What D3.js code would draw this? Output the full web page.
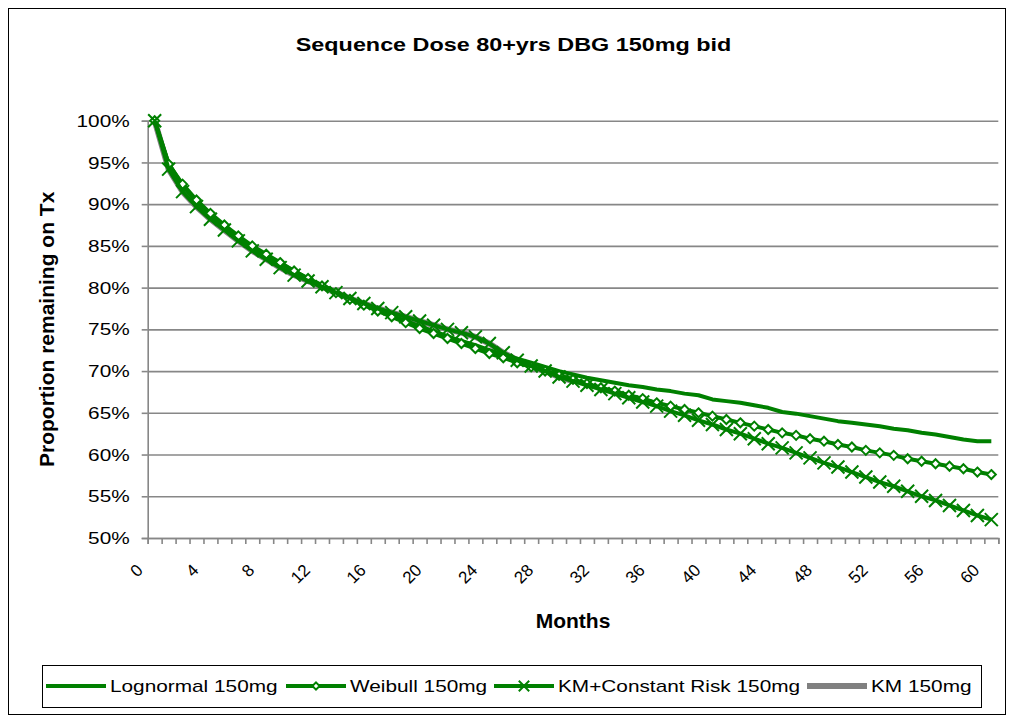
<!DOCTYPE html>
<html><head><meta charset="utf-8">
<script src="https://cdn.jsdelivr.net/npm/d3@7"></script>
<style>
body{margin:0;background:#fff;}
svg{display:block;}
text{font-family:"Liberation Sans",Arial,Helvetica,sans-serif;fill:#000;}
</style>
</head><body>
<svg id="chart" width="1012" height="716"></svg>
<script>
// ---- data ----
const months = [0,1,2,3,4,5,6,7,8,9,10,11,12,13,14,15,16,17,18,19,20,21,22,23,24,25,26,27,28,29,30,
  31,32,33,34,35,36,37,38,39,40,41,42,43,44,45,46,47,48,49,50,51,52,53,54,55,56,57,58,59,60];
const lognormal = [100,94.9,92.2,90.3,88.7,87.3,86.0,84.9,83.8,82.9,82.0,81.1,80.3,79.5,78.7,78.0,77.3,76.6,76.0,75.4,74.8,
  74.2,73.6,73.1,72.5,72.0,71.5,71.0,70.5,70.0,69.6,69.2,68.9,68.6,68.3,68.1,67.8,67.6,67.3,67.1,66.6,
  66.4,66.2,65.9,65.6,65.1,64.9,64.6,64.3,64.0,63.8,63.6,63.4,63.1,62.9,62.6,62.4,62.1,61.8,61.6,61.6];
const weibull = [100,94.8,92.4,90.5,88.9,87.5,86.2,85.0,84.0,83.0,82.0,81.1,80.2,79.4,78.6,77.9,77.2,76.5,75.8,75.1,74.5,
  73.9,73.3,72.7,72.1,71.6,71.0,70.5,70.0,69.5,69.0,68.5,68.0,67.6,67.1,66.7,66.2,65.8,65.4,65.0,64.6,
  64.2,63.8,63.4,63.0,62.6,62.3,61.9,61.6,61.2,60.9,60.5,60.2,59.9,59.5,59.2,58.9,58.6,58.3,57.9,57.6];
const kmConstantRisk = [100,94.2,91.5,89.7,88.2,86.9,85.6,84.4,83.4,82.4,81.5,80.8,80.1,79.4,78.7,78.1,77.5,77.0,76.5,76.0,75.5,
  75.0,74.6,74.1,73.3,72.2,71.3,70.6,70.0,69.3,68.8,68.3,67.8,67.3,66.8,66.3,65.8,65.2,64.7,64.1,63.6,
  63.0,62.5,61.9,61.3,60.8,60.2,59.6,59.0,58.5,57.9,57.3,56.7,56.2,55.6,55.0,54.5,53.9,53.3,52.7,52.2];
const km = [100,94.2,91.5,89.7,88.2,86.9,85.6,84.4,83.4,82.4,81.5,80.8,80.1,79.4,78.7,78.1,77.5,77.0,76.5,76.0,75.5,
  75.0,74.6,74.1,73.3,72.2,71.3,70.6,70.0,69.3,68.8];
const xTickLabels = ["0","4","8","12","16","20","24","28","32","36","40","44","48","52","56","60"];
const yTicks = [50,55,60,65,70,75,80,85,90,95,100];
const seriesNames = ["Lognormal 150mg","Weibull 150mg","KM+Constant Risk 150mg","KM 150mg"];
const titleText = "Sequence Dose 80+yrs DBG 150mg bid";
const xTitle = "Months";
const yTitle = "Proportion remaining on Tx";

// ---- layout ----
const plot = {left:147.7, right:998.3, top:120.7, bottom:538};
const GREEN = "#008000", GRAY = "#808080", GRID = "#878787";
const SX = 1.3;

const svg = d3.select("#chart");
svg.append("rect").attr("x",8.5).attr("y",8.5).attr("width",997).attr("height",706)
  .attr("fill","#fff").attr("stroke","#000").attr("stroke-width",1);

const x = d3.scaleBand().domain(months).range([plot.left, plot.right]).padding(0);
const bw = x.bandwidth();
const cx = m => x(m) + bw/2;
const xb = d3.scaleLinear().domain([0, months.length]).range([plot.left, plot.right]);
const y = d3.scaleLinear().domain([50,100]).range([plot.bottom, plot.top]);

// gridlines
const grid = svg.append("g").attr("transform",`translate(${plot.left},0)`)
  .call(d3.axisLeft(y).tickValues(yTicks).tickSize(-(plot.right-plot.left)).tickFormat(""));
grid.select(".domain").remove();
grid.selectAll("line").attr("stroke",GRID).attr("stroke-width",1.6);

// y axis
const yAx = svg.append("g").attr("transform",`translate(${plot.left},0)`)
  .call(d3.axisLeft(y).tickValues(yTicks).tickSize(6).tickFormat(d => d + "%"));
yAx.select(".domain").attr("stroke",GRID).attr("stroke-width",1.6);
yAx.selectAll(".tick line").attr("stroke",GRID).attr("stroke-width",1.6);
yAx.selectAll(".tick text").attr("x",null).attr("dy","0.35em")
  .attr("transform",`translate(-18,0) scale(${SX},1)`)
  .attr("text-anchor","end").attr("font-size",16).attr("fill","#000")
  .style("font-family",'"Liberation Sans",Arial,sans-serif');

// x axis (ticks at category boundaries)
const xAx = svg.append("g").attr("transform",`translate(0,${plot.bottom})`)
  .call(d3.axisBottom(xb).tickValues(d3.range(0, months.length+1)).tickSize(6).tickFormat(""));
xAx.select(".domain").attr("stroke",GRID).attr("stroke-width",1.6);
xAx.selectAll(".tick line").attr("stroke",GRID).attr("stroke-width",1.6);

svg.append("g").selectAll("text").data(xTickLabels).join("text")
  .attr("transform", d => `translate(${cx(+d) - 15},567) rotate(-45)`)
  .attr("text-anchor","end").attr("dy","0.35em").attr("font-size",17).text(d => d);

// titles
svg.append("text").attr("transform",`translate(513.5,51) scale(1.23,1)`)
  .attr("text-anchor","middle").attr("font-size",19).attr("font-weight","bold").text(titleText);
svg.append("text").attr("transform",`translate(${(plot.left+plot.right)/2},628)`)
  .attr("text-anchor","middle").attr("font-size",21).attr("font-weight","bold").text(xTitle);
svg.append("text").attr("transform",`translate(54,${(plot.top+plot.bottom)/2}) rotate(-90)`)
  .attr("text-anchor","middle").attr("font-size",21).attr("font-weight","bold").text(yTitle);

// series
const line = d3.line().x((d,i) => cx(months[i])).y(d => y(d));
const series = [
  {name:seriesNames[3], vals:km, color:GRAY, width:6, marker:null},
  {name:seriesNames[0], vals:lognormal, color:GREEN, width:4, marker:null},
  {name:seriesNames[1], vals:weibull, color:GREEN, width:4, marker:"diamond"},
  {name:seriesNames[2], vals:kmConstantRisk, color:GREEN, width:4, marker:"x"}
];
const diamondPath = s => `M0,${-s}L${s},0L0,${s}L${-s},0Z`;
const xPath = s => `M${-s},${-s}L${s},${s}M${-s},${s}L${s},${-s}`;

function drawMarker(g, type, px, py, scale){
  if(type === "diamond"){
    g.append("path").attr("d", diamondPath(4.5*scale)).attr("transform",`translate(${px},${py})`)
      .attr("fill","#fff").attr("stroke",GREEN).attr("stroke-width",2);
  } else if(type === "x"){
    g.append("path").attr("d", xPath(6.5*scale)).attr("transform",`translate(${px},${py})`)
      .attr("fill","none").attr("stroke",GREEN).attr("stroke-width",2);
  }
}

series.forEach(s => {
  const g = svg.append("g");
  g.append("path").datum(s.vals).attr("d", line).attr("fill","none")
    .attr("stroke", s.color).attr("stroke-width", s.width).attr("stroke-linejoin","round");
  if(s.marker){
    s.vals.forEach((v,i) => drawMarker(g, s.marker, cx(months[i]), y(v), 1));
  }
});

// legend
const lg = svg.append("g");
lg.append("rect").attr("x",42.5).attr("y",665.5).attr("width",939).attr("height",42)
  .attr("fill","#fff").attr("stroke","#000").attr("stroke-width",1);
const legendItems = [
  {name:seriesNames[0], color:GREEN, width:4, marker:null, x0:46},
  {name:seriesNames[1], color:GREEN, width:4, marker:"diamond", x0:286},
  {name:seriesNames[2], color:GREEN, width:4, marker:"x", x0:494},
  {name:seriesNames[3], color:GRAY, width:6, marker:null, x0:807}
];
legendItems.forEach(it => {
  const ly = 686;
  lg.append("line").attr("x1",it.x0).attr("x2",it.x0+60).attr("y1",ly).attr("y2",ly)
    .attr("stroke",it.color).attr("stroke-width",it.width);
  if(it.marker) drawMarker(lg, it.marker, it.x0+30, ly, 0.8);
  lg.append("text").attr("transform",`translate(${it.x0+64},${ly}) scale(${SX},1)`)
    .attr("dy","0.35em").attr("font-size",16).text(it.name);
});
</script>
</body></html>
